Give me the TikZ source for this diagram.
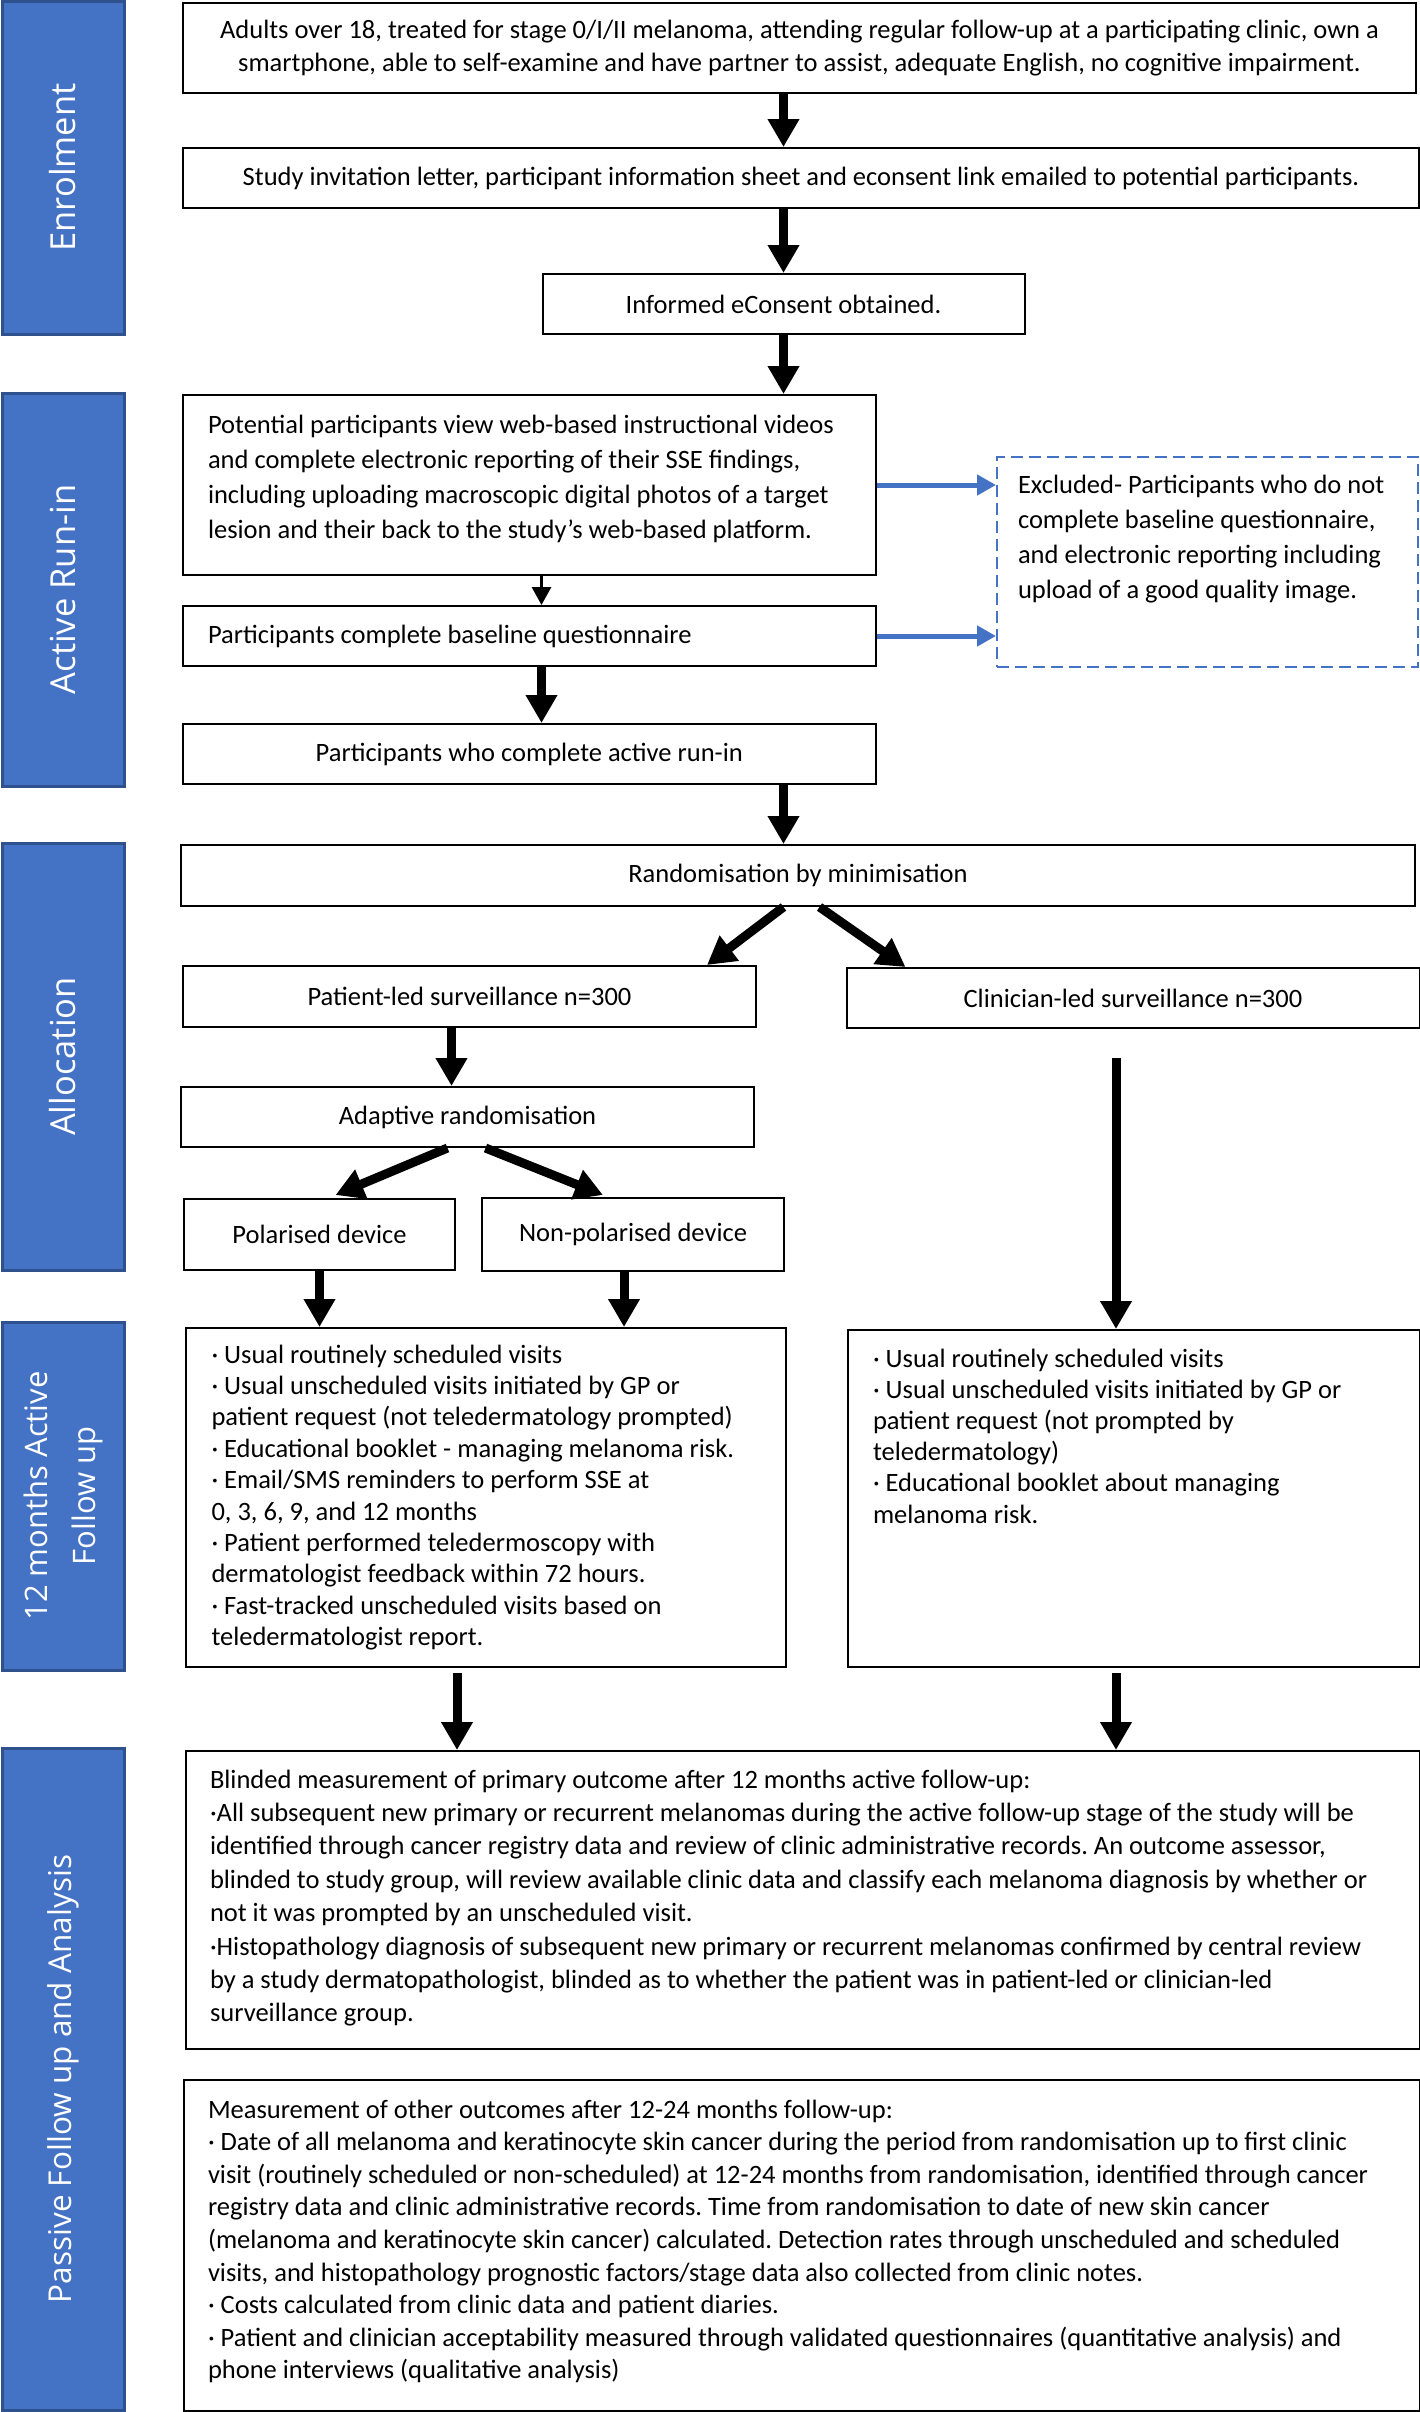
\documentclass[tikz,border=0pt]{standalone}
\usepackage{fontspec}
\setmainfont{Carlito}
\newfontfamily\stagefont{Open Sans}
\usetikzlibrary{arrows.meta,calc}
\frenchspacing

\definecolor{stagefill}{HTML}{4472C4}
\definecolor{stagedraw}{HTML}{2F528F}

\begin{document}
\begin{tikzpicture}[x=1pt, y=-1pt,
    stage/.style={draw=stagedraw, line width=3pt, fill=stagefill, rotate=90, minimum height=122pt, inner sep=0pt, text=white, align=center, font=\stagefont\fontsize{34.5}{48}\selectfont},
    box/.style={draw, line width=2pt, anchor=north west, inner sep=0pt, align=flush center, font=\fontsize{26.5}{32.5}\selectfont},
    listbox/.style={box, align=flush left, inner xsep=25pt},
    bigarrow/.style={line width=9pt, -{Triangle[width=30pt,length=28pt]}},
    smallarrow/.style={line width=3pt, -{Triangle[width=19pt,length=18pt]}},
    bluearrow/.style={draw=stagefill, line width=5pt, -{Triangle[width=20pt,length=19pt]}}
  ]
        \useasboundingbox (0,0) rectangle (1420,2412);

        %stages
        \node[stage, minimum width=333pt] (enrol) at (63,167.5) {Enrolment};
        \node[stage, minimum width=393pt] (runin) at (63,589.5) {Active Run-in};
        \node[stage, minimum width=427pt] (alloc) at (63,1056.5) {Allocation};
        \node[stage, minimum width=348pt, font=\stagefont\fontsize{31}{48}\selectfont] (active) at (63,1496) {12 months Active\\Follow up};
        \node[stage, minimum width=662pt, font=\stagefont\fontsize{31.5}{40}\selectfont] (passive) at (63,2079) {Passive Follow up and Analysis};

        \node[box, minimum width=1233pt, minimum height=90pt, text width=1200pt] (elig) at (182,2) {Adults over 18, treated for stage 0/I/II melanoma, attending regular follow-up at a participating clinic, own a\\smartphone, able to self-examine and have partner to assist, adequate English, no cognitive impairment.};
        \node[box, minimum width=1236pt, minimum height=60pt] (invite) at (182,147) {Study invitation letter, participant information sheet and econsent link emailed to potential participants.};
        \node[box, minimum width=482pt, minimum height=60pt] (consent) at (541.5,273) {Informed eConsent obtained.};

        \node[listbox, font=\fontsize{26.5}{35}\selectfont, text width=642.5pt, text height=38pt, text depth=142pt] (videos) at (182,394) {Potential participants view web-based instructional videos\\and complete electronic reporting of their SSE findings,\\including uploading macroscopic digital photos of a target\\lesion and their back to the study’s web-based platform.};
        \node[listbox, text width=642.5pt, minimum height=60pt] (baseline) at (182,605) {Participants complete baseline questionnaire};
        \node[box, minimum width=692.5pt, minimum height=60pt] (runend) at (182,723) {Participants who complete active run-in};
        \node[listbox, font=\fontsize{26.5}{35}\selectfont, draw=stagefill, dash pattern=on 12pt off 6pt, inner xsep=21pt, text width=379pt, text height=36pt, text depth=174pt] (excl) at (996,456) {Excluded- Participants who do not\\complete baseline questionnaire,\\and electronic reporting including\\upload of a good quality image.};

        \node[box, minimum width=1234pt, minimum height=61pt] (minim) at (180,844) {Randomisation by minimisation};
        \node[box, minimum width=573pt, minimum height=61pt] (patient) at (182,965) {Patient-led surveillance n=300};
        \node[box, minimum width=573pt, minimum height=60pt] (clinician) at (845.5,967) {Clinician-led surveillance n=300};
        \node[box, minimum width=573pt, minimum height=60pt] (adaptive) at (180,1086) {Adaptive randomisation};
        \node[box, minimum width=271pt, minimum height=71pt] (polar) at (183,1198) {Polarised device};
        \node[box, minimum width=302pt, minimum height=73pt] (nonpolar) at (481,1197) {Non-polarised device};

        \node[listbox, font=\fontsize{26.5}{31.4}\selectfont, inner xsep=25.5pt, text width=549pt, text height=35pt, text depth=304pt] (patfu) at (185,1327) {· Usual routinely scheduled visits\\· Usual unscheduled visits initiated by GP or\\patient request (not teledermatology prompted)\\· Educational booklet - managing melanoma risk.\\· Email/SMS reminders to perform SSE at\\0, 3, 6, 9, and 12 months\\· Patient performed teledermoscopy with\\dermatologist feedback within 72 hours.\\· Fast-tracked unscheduled visits based on\\teledermatologist report.};
        \node[listbox, font=\fontsize{26.5}{31.2}\selectfont, text width=521.5pt, text height=37pt, text depth=300pt] (clinfu) at (847,1329) {· Usual routinely scheduled visits\\· Usual unscheduled visits initiated by GP or\\patient request (not prompted by\\teledermatology)\\· Educational booklet about managing\\melanoma risk.};

        \node[listbox, font=\fontsize{26.5}{33.4}\selectfont, inner xsep=24pt, text width=1186pt, text height=37pt, text depth=261pt] (primary) at (185,1750) {Blinded measurement of primary outcome after 12 months active follow-up:\\·All subsequent new primary or recurrent melanomas during the active follow-up stage of the study will be\\identified through cancer registry data and review of clinic administrative records. An outcome assessor,\\blinded to study group, will review available clinic data and classify each melanoma diagnosis by whether or\\not it was prompted by an unscheduled visit.\\·Histopathology diagnosis of subsequent new primary or recurrent melanomas confirmed by central review\\by a study dermatopathologist, blinded as to whether the patient was in patient-led or clinician-led\\surveillance group.};
        \node[listbox, font=\fontsize{26.5}{32.6}\selectfont, inner xsep=24pt, text width=1188pt, text height=38pt, text depth=293pt] (other) at (183,2079) {Measurement of other outcomes after 12-24 months follow-up:\\· Date of all melanoma and keratinocyte skin cancer during the period from randomisation up to first clinic\\visit (routinely scheduled or non-scheduled) at 12-24 months from randomisation, identified through cancer\\registry data and clinic administrative records. Time from randomisation to date of new skin cancer\\(melanoma and keratinocyte skin cancer) calculated. Detection rates through unscheduled and scheduled\\visits, and histopathology prognostic factors/stage data also collected from clinic notes.\\· Costs calculated from clinic data and patient diaries.\\· Patient and clinician acceptability measured through validated questionnaires (quantitative analysis) and\\phone interviews (qualitative analysis)};

        %arrows
        \draw[bigarrow] (elig.south -| consent.north) -- (invite.north -| consent.north);
        \draw[bigarrow] (invite.south -| consent.north) -- (consent.north);
        \draw[bigarrow] (consent.south) -- (videos.north -| consent.south);
        \draw[smallarrow] (videos.south -| consent.west) -- (baseline.north -| consent.west);
        \draw[bigarrow] (baseline.south -| consent.west) -- (runend.north -| consent.west);
        \draw[bluearrow] (videos.east) -- (videos.east -| excl.west);
        \draw[bluearrow] (baseline.east) -- (baseline.east -| excl.west);
        \draw[bigarrow] (runend.south -| consent.south) -- (minim.north -| consent.south);

        \draw[bigarrow] (minim.south -| consent.south) -- ($(patient.north east)+(-50,0)$);
        \draw[bigarrow] ($(minim.south -| consent.south)+(36,0)$) -- ($(clinician.north west)+(60,0)$);
        \draw[bigarrow] ($(patient.south)+(-18,0)$) coordinate (p1) -- (p1 |- adaptive.north);
        \draw[bigarrow] ($(adaptive.south)+(-20,0)$) -- ($(polar.north)+(16,-3)$);
        \draw[bigarrow] ($(adaptive.south)+(18,0)$) -- ($(nonpolar.north)+(-30,-2)$);
        \draw[bigarrow] (polar.south) -- (patfu.north -| polar.south);
        \draw[bigarrow] ($(nonpolar.south)+(-9,0)$) coordinate (p2) -- (p2 |- patfu.north);
        \coordinate (clinline) at ($(clinician.south)+(-17,29)$);
        \draw[bigarrow] (clinline) -- (clinline |- clinfu.north);
        \draw[bigarrow] ($(patfu.south)+(-29,5)$) coordinate (p3) -- (p3 |- primary.north);
        \draw[bigarrow] ($(clinline |- clinfu.south)+(0,5)$) -- (clinline |- primary.north);
    \end{tikzpicture}
\end{document}
